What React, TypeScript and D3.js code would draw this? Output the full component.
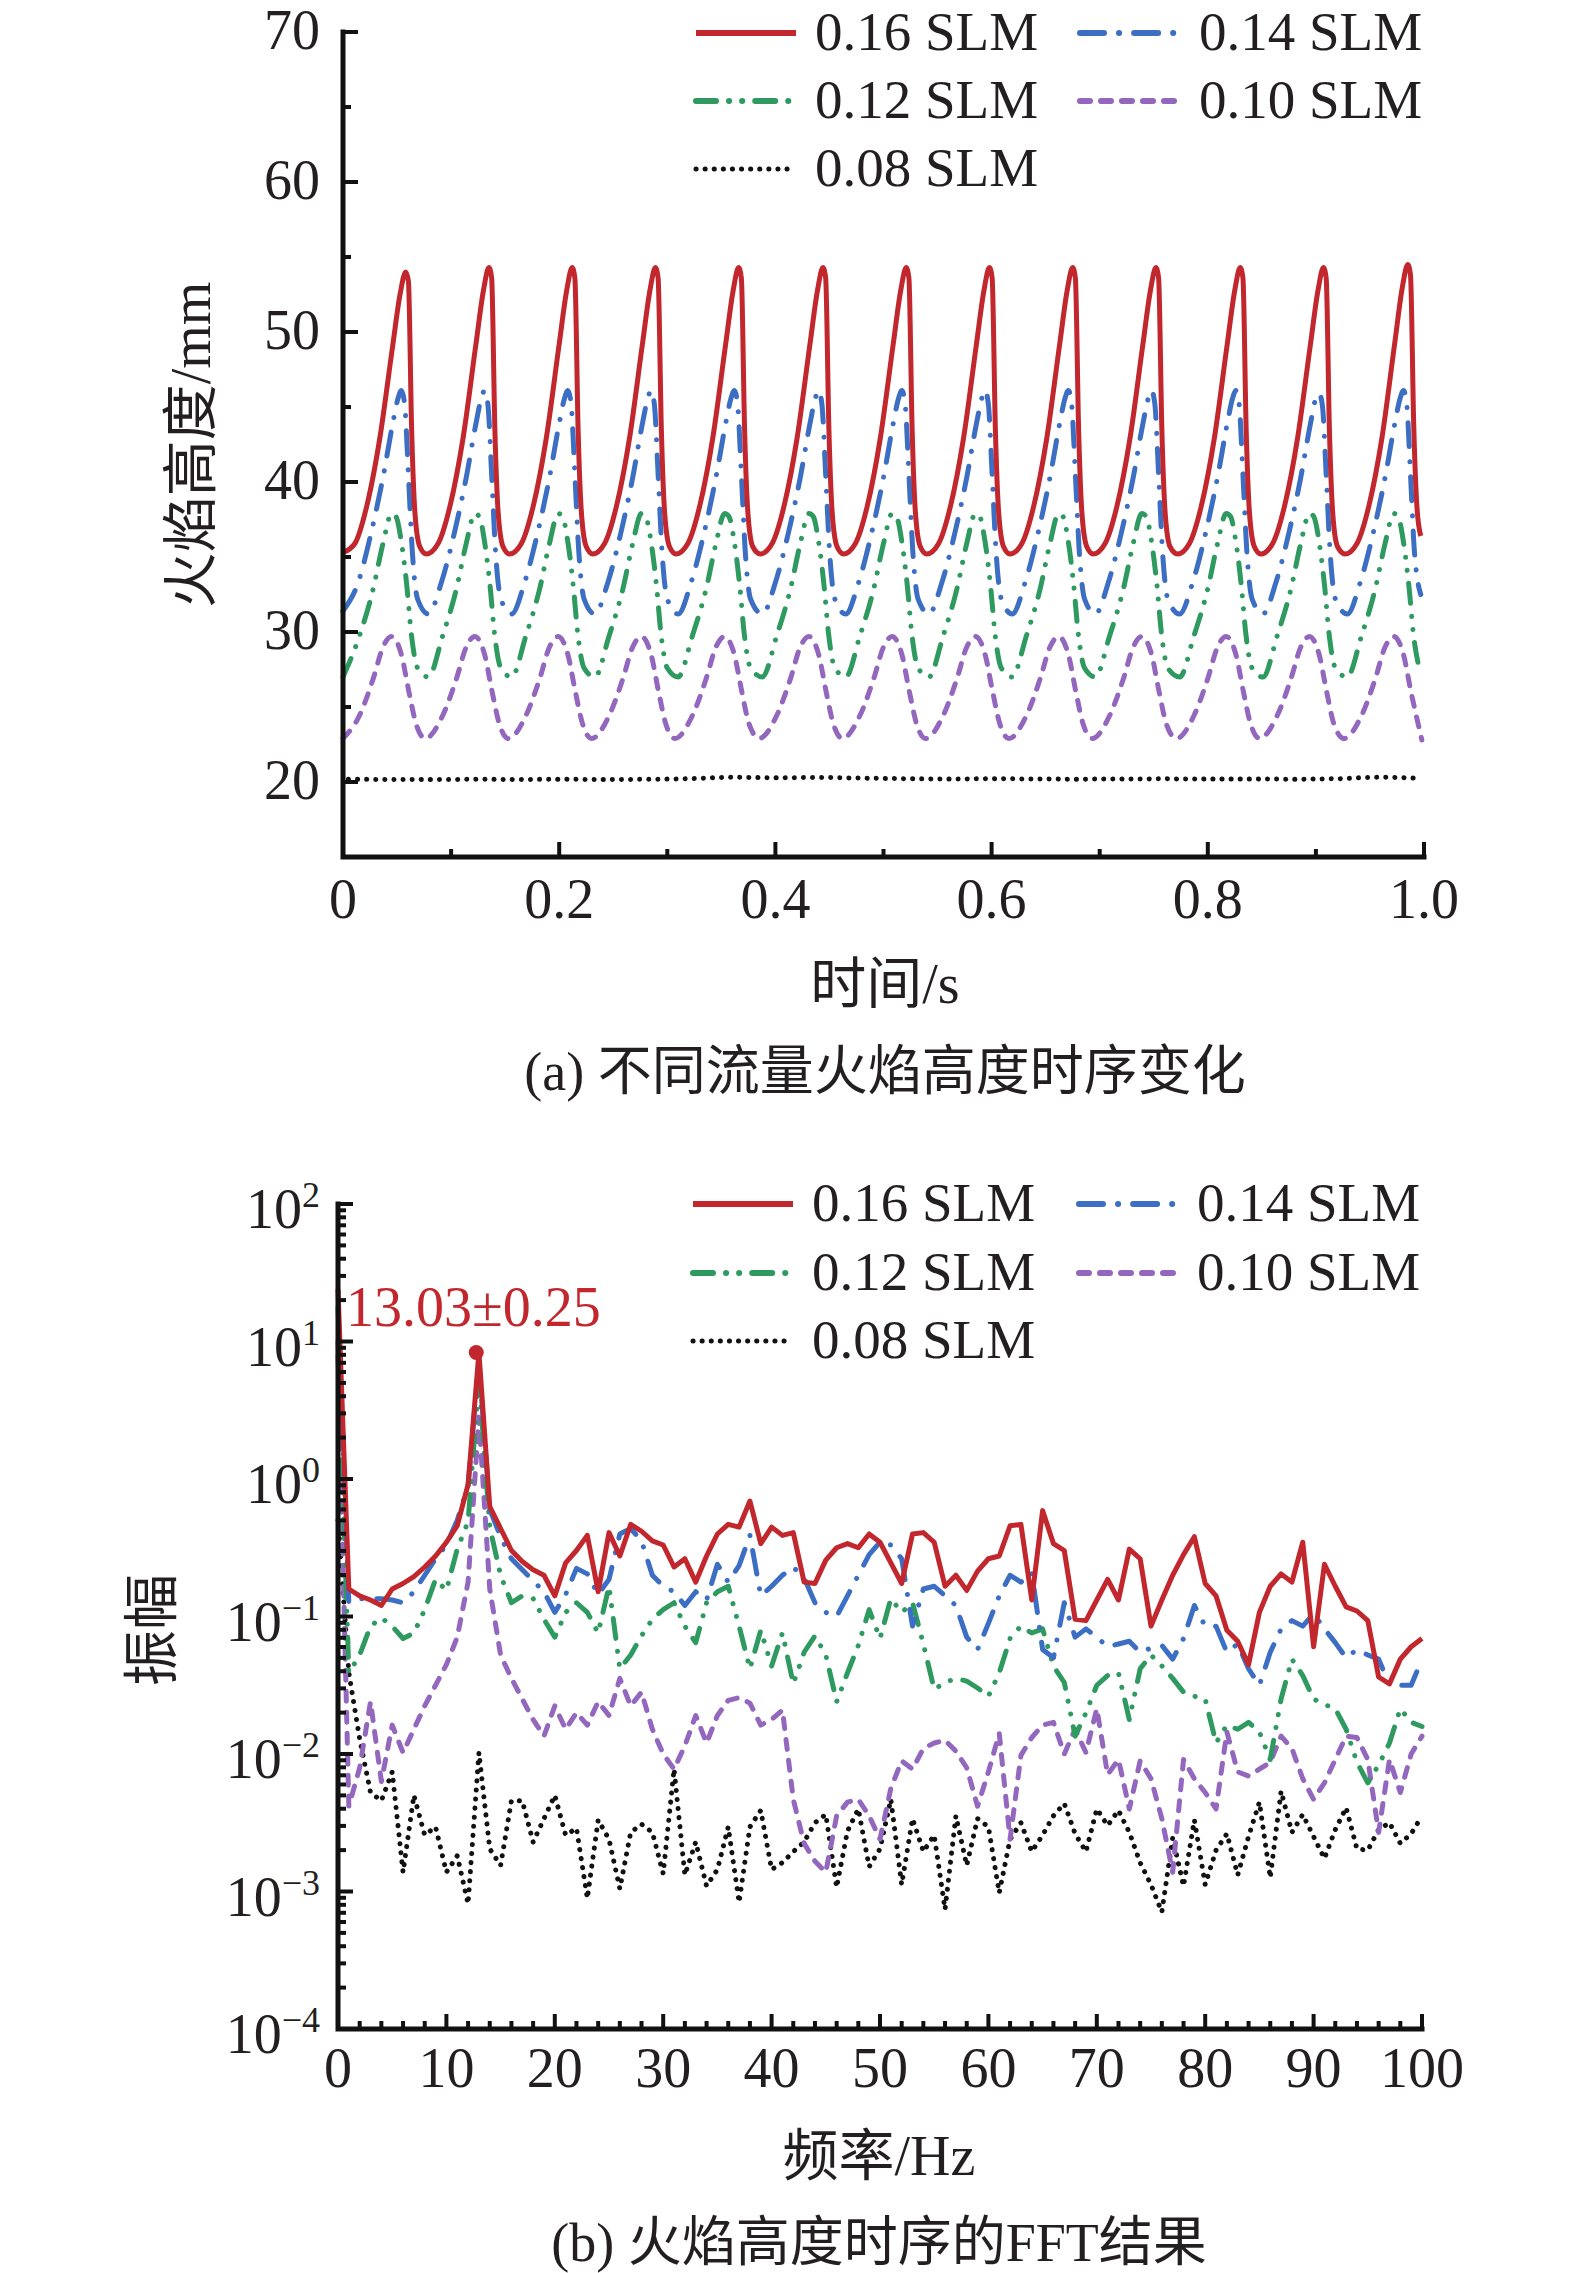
import * as d3 from "d3";

// ── Series names and style (legend order) ─────────────────────
const SERIES = ["0.16 SLM", "0.14 SLM", "0.12 SLM", "0.10 SLM", "0.08 SLM"];
const COLORS = ["#c1272d", "#3c6fc4", "#2f9a60", "#9467bf", "#111111"];
const DASHES = ["none", "24 15 0.1 15", "20 13 0.1 13 0.1 13", "10 11", "0.1 9"];

// ── (a) flame height vs time, [t (s), height (mm)] ────────────
const H_016: [number, number][] = [
  [0.000, 35.3], [0.011, 35.9], [0.022, 38.4], [0.034, 42.9], [0.046, 49.1], [0.053, 52.6], [0.058, 54.0], [0.0605, 53.4], [0.0635, 43.5], [0.0665, 38.0], [0.071, 35.7],
  [0.077, 35.2], [0.088, 35.9], [0.099, 38.4], [0.111, 42.9], [0.123, 49.2], [0.130, 52.8], [0.135, 54.3], [0.1375, 53.6], [0.1405, 43.5], [0.1435, 38.0], [0.148, 35.7],
  [0.154, 35.2], [0.165, 35.9], [0.176, 38.4], [0.188, 42.9], [0.200, 49.2], [0.207, 52.8], [0.212, 54.3], [0.2145, 53.6], [0.2175, 43.5], [0.2205, 38.0], [0.225, 35.7],
  [0.231, 35.2], [0.242, 35.9], [0.253, 38.4], [0.265, 42.9], [0.277, 49.2], [0.284, 52.8], [0.289, 54.3], [0.2915, 53.6], [0.2945, 43.5], [0.2975, 38.0], [0.302, 35.7],
  [0.308, 35.2], [0.319, 35.9], [0.330, 38.4], [0.342, 42.9], [0.354, 49.2], [0.361, 52.8], [0.366, 54.3], [0.3685, 53.6], [0.3715, 43.5], [0.3745, 38.0], [0.379, 35.7],
  [0.386, 35.2], [0.397, 35.9], [0.408, 38.4], [0.420, 42.9], [0.432, 49.2], [0.439, 52.8], [0.444, 54.3], [0.4465, 53.6], [0.4495, 43.5], [0.4525, 38.0], [0.457, 35.7],
  [0.463, 35.2], [0.474, 35.9], [0.485, 38.4], [0.497, 42.9], [0.509, 49.2], [0.516, 52.8], [0.521, 54.3], [0.5235, 53.6], [0.5265, 43.5], [0.5295, 38.0], [0.534, 35.7],
  [0.540, 35.2], [0.551, 35.9], [0.562, 38.4], [0.574, 42.9], [0.586, 49.2], [0.593, 52.8], [0.598, 54.3], [0.6005, 53.6], [0.6035, 43.5], [0.6065, 38.0], [0.611, 35.7],
  [0.617, 35.2], [0.628, 35.9], [0.639, 38.4], [0.651, 42.9], [0.663, 49.2], [0.670, 52.8], [0.675, 54.3], [0.6775, 53.6], [0.6805, 43.5], [0.6835, 38.0], [0.688, 35.7],
  [0.694, 35.2], [0.705, 35.9], [0.716, 38.4], [0.728, 42.9], [0.740, 49.2], [0.747, 52.8], [0.752, 54.3], [0.7545, 53.6], [0.7575, 43.5], [0.7605, 38.0], [0.765, 35.7],
  [0.772, 35.2], [0.783, 35.9], [0.794, 38.4], [0.806, 42.9], [0.818, 49.2], [0.825, 52.8], [0.830, 54.3], [0.8325, 53.6], [0.8355, 43.5], [0.8385, 38.0], [0.843, 35.7],
  [0.849, 35.2], [0.860, 35.9], [0.871, 38.4], [0.883, 42.9], [0.895, 49.2], [0.902, 52.8], [0.907, 54.3], [0.9095, 53.6], [0.9125, 43.5], [0.9155, 38.0], [0.920, 35.7],
  [0.927, 35.2], [0.938, 35.9], [0.949, 38.4], [0.961, 42.9], [0.973, 49.3], [0.980, 53.0], [0.985, 54.5], [0.9875, 53.8], [0.9905, 43.8], [0.9935, 38.3], [0.997, 36.4],
];

const H_014: [number, number][] = [
  [0.000, 31.4], [0.014, 33.3], [0.026, 36.6], [0.037, 40.3], [0.046, 43.9], [0.051, 45.6], [0.054, 46.1], [0.057, 45.2], [0.0605, 40.5], [0.064, 35.5], [0.069, 32.2],
  [0.079, 31.2], [0.091, 33.3], [0.103, 36.6], [0.114, 40.3], [0.123, 43.9], [0.128, 45.6], [0.131, 46.1], [0.134, 45.2], [0.1375, 40.5], [0.141, 35.5], [0.146, 32.2],
  [0.156, 31.2], [0.168, 33.3], [0.180, 36.6], [0.191, 40.3], [0.200, 43.9], [0.205, 45.6], [0.208, 46.1], [0.211, 45.2], [0.2145, 40.5], [0.218, 35.5], [0.223, 32.2],
  [0.233, 31.2], [0.245, 33.3], [0.257, 36.6], [0.268, 40.3], [0.277, 43.9], [0.282, 45.6], [0.285, 46.1], [0.288, 45.2], [0.2915, 40.5], [0.295, 35.5], [0.300, 32.2],
  [0.310, 31.2], [0.322, 33.3], [0.334, 36.6], [0.345, 40.3], [0.354, 43.9], [0.359, 45.6], [0.362, 46.1], [0.365, 45.2], [0.3685, 40.5], [0.372, 35.5], [0.377, 32.2],
  [0.388, 31.2], [0.400, 33.3], [0.412, 36.6], [0.423, 40.3], [0.432, 43.9], [0.437, 45.6], [0.440, 46.1], [0.443, 45.2], [0.4465, 40.5], [0.450, 35.5], [0.455, 32.2],
  [0.465, 31.2], [0.477, 33.3], [0.489, 36.6], [0.500, 40.3], [0.509, 43.9], [0.514, 45.6], [0.517, 46.1], [0.520, 45.2], [0.5235, 40.5], [0.527, 35.5], [0.532, 32.2],
  [0.542, 31.2], [0.554, 33.3], [0.566, 36.6], [0.577, 40.3], [0.586, 43.9], [0.591, 45.6], [0.594, 46.1], [0.597, 45.2], [0.6005, 40.5], [0.604, 35.5], [0.609, 32.2],
  [0.619, 31.2], [0.631, 33.3], [0.643, 36.6], [0.654, 40.3], [0.663, 43.9], [0.668, 45.6], [0.671, 46.1], [0.674, 45.2], [0.6775, 40.5], [0.681, 35.5], [0.686, 32.2],
  [0.696, 31.2], [0.708, 33.3], [0.720, 36.6], [0.731, 40.3], [0.740, 43.9], [0.745, 45.6], [0.748, 46.1], [0.751, 45.2], [0.7545, 40.5], [0.758, 35.5], [0.763, 32.2],
  [0.774, 31.2], [0.786, 33.3], [0.798, 36.6], [0.809, 40.3], [0.818, 43.9], [0.823, 45.6], [0.826, 46.1], [0.829, 45.2], [0.8325, 40.5], [0.836, 35.5], [0.841, 32.2],
  [0.851, 31.2], [0.863, 33.3], [0.875, 36.6], [0.886, 40.3], [0.895, 43.9], [0.900, 45.6], [0.903, 45.9], [0.906, 45.1], [0.9095, 40.5], [0.913, 35.5], [0.918, 32.2],
  [0.929, 31.2], [0.941, 33.3], [0.953, 36.6], [0.964, 40.3], [0.973, 43.9], [0.978, 45.6], [0.981, 46.1], [0.984, 45.2], [0.9875, 40.5], [0.991, 35.5], [0.997, 32.5],
];

const H_012: [number, number][] = [
  [0.000, 27.0], [0.015, 29.7], [0.028, 32.9], [0.037, 35.9], [0.045, 37.9], [0.049, 37.7], [0.054, 36.0], [0.059, 33.1], [0.063, 30.0], [0.069, 27.6],
  [0.079, 27.0], [0.092, 29.7], [0.105, 32.9], [0.114, 35.9], [0.122, 37.9], [0.126, 37.7], [0.131, 36.0], [0.136, 33.1], [0.140, 30.0], [0.146, 27.6],
  [0.156, 27.0], [0.169, 29.7], [0.182, 32.9], [0.191, 35.9], [0.199, 37.9], [0.203, 37.7], [0.208, 36.0], [0.213, 33.1], [0.217, 30.0], [0.223, 27.6],
  [0.233, 27.0], [0.246, 29.7], [0.259, 32.9], [0.268, 35.9], [0.276, 37.9], [0.280, 37.7], [0.285, 36.0], [0.290, 33.1], [0.294, 30.0], [0.300, 27.6],
  [0.310, 27.0], [0.323, 29.7], [0.336, 32.9], [0.345, 35.9], [0.353, 37.9], [0.357, 37.7], [0.362, 36.0], [0.367, 33.1], [0.371, 30.0], [0.377, 27.6],
  [0.388, 27.0], [0.401, 29.7], [0.414, 32.9], [0.423, 35.9], [0.431, 37.9], [0.435, 37.7], [0.440, 36.0], [0.445, 33.1], [0.449, 30.0], [0.455, 27.6],
  [0.465, 27.0], [0.478, 29.7], [0.491, 32.9], [0.500, 35.9], [0.508, 37.9], [0.512, 37.7], [0.517, 36.0], [0.522, 33.1], [0.526, 30.0], [0.532, 27.6],
  [0.542, 27.0], [0.555, 29.7], [0.568, 32.9], [0.577, 35.9], [0.585, 37.9], [0.589, 37.7], [0.594, 36.0], [0.599, 33.1], [0.603, 30.0], [0.609, 27.6],
  [0.619, 27.0], [0.632, 29.7], [0.645, 32.9], [0.654, 35.9], [0.662, 37.9], [0.666, 37.7], [0.671, 36.0], [0.676, 33.1], [0.680, 30.0], [0.686, 27.6],
  [0.696, 27.0], [0.709, 29.7], [0.722, 32.9], [0.731, 35.9], [0.739, 37.9], [0.743, 37.7], [0.748, 36.0], [0.753, 33.1], [0.757, 30.0], [0.763, 27.6],
  [0.774, 27.0], [0.787, 29.7], [0.800, 32.9], [0.809, 35.9], [0.817, 37.9], [0.821, 37.7], [0.826, 36.0], [0.831, 33.1], [0.835, 30.0], [0.841, 27.6],
  [0.851, 27.0], [0.864, 29.7], [0.877, 32.9], [0.886, 35.9], [0.894, 37.9], [0.898, 37.7], [0.903, 36.0], [0.908, 33.1], [0.912, 30.0], [0.918, 27.6],
  [0.929, 27.0], [0.942, 29.7], [0.955, 32.9], [0.964, 35.9], [0.972, 37.9], [0.976, 37.7], [0.981, 36.0], [0.986, 33.1], [0.990, 30.0], [0.997, 27.2],
];

const H_010: [number, number][] = [
  [0.000, 22.9], [0.015, 24.4], [0.028, 26.9], [0.037, 29.0], [0.045, 29.7], [0.054, 28.5], [0.061, 26.0], [0.0675, 23.9],
  [0.076, 22.9], [0.092, 24.4], [0.105, 26.9], [0.114, 29.0], [0.122, 29.7], [0.131, 28.5], [0.138, 26.0], [0.1445, 23.9],
  [0.153, 22.9], [0.169, 24.4], [0.182, 26.9], [0.191, 29.0], [0.199, 29.7], [0.208, 28.5], [0.215, 26.0], [0.2215, 23.9],
  [0.230, 22.9], [0.246, 24.4], [0.259, 26.9], [0.268, 29.0], [0.276, 29.7], [0.285, 28.5], [0.292, 26.0], [0.2985, 23.9],
  [0.307, 22.9], [0.323, 24.4], [0.336, 26.9], [0.345, 29.0], [0.353, 29.7], [0.362, 28.5], [0.369, 26.0], [0.3755, 23.9],
  [0.385, 22.9], [0.401, 24.4], [0.414, 26.9], [0.423, 29.0], [0.431, 29.7], [0.440, 28.5], [0.447, 26.0], [0.4535, 23.9],
  [0.462, 22.9], [0.478, 24.4], [0.491, 26.9], [0.500, 29.0], [0.508, 29.7], [0.517, 28.5], [0.524, 26.0], [0.5305, 23.9],
  [0.539, 22.9], [0.555, 24.4], [0.568, 26.9], [0.577, 29.0], [0.585, 29.7], [0.594, 28.5], [0.601, 26.0], [0.6075, 23.9],
  [0.616, 22.9], [0.632, 24.4], [0.645, 26.9], [0.654, 29.0], [0.662, 29.7], [0.671, 28.5], [0.678, 26.0], [0.6845, 23.9],
  [0.693, 22.9], [0.709, 24.4], [0.722, 26.9], [0.731, 29.0], [0.739, 29.7], [0.748, 28.5], [0.755, 26.0], [0.7615, 23.9],
  [0.771, 22.9], [0.787, 24.4], [0.800, 26.9], [0.809, 29.0], [0.817, 29.7], [0.826, 28.5], [0.833, 26.0], [0.8395, 23.9],
  [0.848, 22.9], [0.864, 24.4], [0.877, 26.9], [0.886, 29.0], [0.894, 29.7], [0.903, 28.5], [0.910, 26.0], [0.9165, 23.9],
  [0.926, 22.9], [0.942, 24.4], [0.955, 26.9], [0.964, 29.0], [0.972, 29.7], [0.981, 28.5], [0.988, 26.0], [0.9945, 23.9], [0.998, 22.8],
];

const H_008: [number, number][] = [
  [0.005, 20.18], [0.04, 20.17], [0.08, 20.16], [0.12, 20.18], [0.16, 20.17], [0.20, 20.18], [0.24, 20.17],
  [0.28, 20.18], [0.32, 20.22], [0.36, 20.32], [0.40, 20.28], [0.44, 20.30], [0.48, 20.26], [0.52, 20.22],
  [0.56, 20.20], [0.60, 20.22], [0.64, 20.20], [0.68, 20.19], [0.72, 20.20], [0.76, 20.21], [0.80, 20.20],
  [0.84, 20.20], [0.88, 20.19], [0.92, 20.22], [0.96, 20.32], [0.997, 20.24],
];

// ── (b) FFT amplitude, log10 value at 0,1,…,100 Hz ────────────
const FFT_016 = [
  1.38, -0.80, -0.85, -0.88, -0.92, -0.80, -0.76, -0.71, -0.64, -0.56,
  -0.46, -0.34, -0.04, 0.92, -0.20, -0.36, -0.52, -0.60, -0.66, -0.70,
  -0.85, -0.61, -0.52, -0.41, -0.82, -0.39, -0.56, -0.33, -0.38, -0.45,
  -0.48, -0.64, -0.58, -0.75, -0.56, -0.40, -0.33, -0.35, -0.16, -0.47,
  -0.35, -0.41, -0.39, -0.75, -0.76, -0.59, -0.50, -0.47, -0.50, -0.40,
  -0.46, -0.61, -0.76, -0.40, -0.39, -0.46, -0.78, -0.70, -0.81, -0.67,
  -0.58, -0.56, -0.34, -0.33, -0.88, -0.23, -0.47, -0.52, -1.02, -1.03,
  -0.88, -0.73, -0.88, -0.51, -0.58, -1.07, -0.88, -0.70, -0.55, -0.42,
  -0.76, -0.85, -1.10, -1.18, -1.35, -0.97, -0.78, -0.69, -0.75, -0.46,
  -1.22, -0.62, -0.78, -0.93, -0.96, -1.03, -1.44, -1.49, -1.31, -1.22,
  -1.16,
];
const FFT_014 = [
  1.25, -0.90, -0.87, -0.87, -0.87, -0.88, -0.90, -0.82, -0.70, -0.58,
  -0.48, -0.30, -0.05, 0.85, -0.22, -0.42, -0.58, -0.66, -0.74, -0.82,
  -0.97, -0.84, -0.65, -0.69, -0.84, -0.73, -0.40, -0.36, -0.45, -0.70,
  -0.78, -0.82, -0.92, -0.82, -0.88, -0.62, -0.75, -0.63, -0.41, -0.85,
  -0.78, -0.70, -0.64, -0.72, -0.90, -0.97, -1.00, -0.85, -0.70, -0.55,
  -0.46, -0.48, -0.58, -1.07, -0.80, -0.78, -0.85, -0.92, -1.15, -1.24,
  -1.05, -0.85, -0.70, -0.75, -0.68, -1.24, -1.30, -0.90, -1.15, -1.09,
  -1.15, -1.22, -1.20, -1.18, -1.26, -1.23, -1.21, -1.31, -1.16, -0.92,
  -1.07, -1.07, -1.26, -1.20, -1.38, -1.50, -1.26, -1.09, -1.03, -1.07,
  -0.98, -1.09, -1.19, -1.30, -1.24, -1.28, -1.31, -1.50, -1.50, -1.50,
  -1.31,
];
const FFT_012 = [
  1.00, -1.41, -1.28, -1.07, -1.01, -1.07, -1.16, -1.12, -0.95, -0.73,
  -0.81, -0.51, -0.31, 0.73, -0.35, -0.70, -0.90, -0.85, -0.87, -1.02,
  -1.15, -0.97, -0.90, -0.97, -1.12, -0.78, -1.38, -1.28, -1.14, -1.02,
  -0.95, -0.90, -1.07, -1.19, -0.90, -0.82, -0.78, -1.07, -1.38, -1.10,
  -1.36, -1.12, -1.49, -1.26, -1.14, -1.28, -1.62, -1.41, -1.21, -0.95,
  -1.16, -0.87, -0.97, -0.90, -1.20, -1.53, -1.48, -1.45, -1.47, -1.52,
  -1.58, -1.41, -1.16, -1.07, -1.12, -1.09, -1.36, -1.48, -1.87, -1.70,
  -1.50, -1.43, -1.41, -1.75, -1.38, -1.28, -1.36, -1.45, -1.55, -1.58,
  -1.60, -1.92, -1.79, -1.82, -1.77, -1.84, -2.04, -1.60, -1.31, -1.43,
  -1.60, -1.64, -1.67, -1.82, -2.06, -2.21, -2.08, -1.92, -1.67, -1.77,
  -1.80,
];
const FFT_010 = [
  0.90, -2.38, -2.10, -1.62, -2.20, -1.79, -1.99, -1.82, -1.65, -1.50,
  -1.35, -1.15, -0.75, 0.45, -0.80, -1.28, -1.45, -1.60, -1.75, -1.87,
  -1.65, -1.82, -1.70, -1.79, -1.62, -1.72, -1.45, -1.65, -1.55, -1.82,
  -2.00, -2.11, -1.94, -1.72, -1.92, -1.72, -1.61, -1.59, -1.63, -1.79,
  -1.75, -1.68, -2.33, -2.65, -2.78, -2.86, -2.45, -2.35, -2.33, -2.45,
  -2.62, -2.25, -2.05, -2.11, -1.96, -1.92, -1.90, -1.98, -2.10, -2.38,
  -2.13, -1.85, -2.62, -2.01, -1.88, -1.79, -1.77, -2.00, -1.82, -1.99,
  -1.67, -2.15, -2.04, -2.40, -2.05, -2.18, -2.47, -2.86, -2.04, -2.18,
  -2.28, -2.40, -1.84, -2.13, -2.16, -2.11, -2.06, -1.87, -1.96, -2.18,
  -2.33, -2.21, -2.04, -1.87, -1.88, -2.04, -2.57, -2.04, -2.28, -2.00,
  -1.87,
];
const FFT_008 = [
  -0.30, -1.41, -1.89, -2.28, -2.34, -2.13, -2.86, -2.30, -2.59, -2.53,
  -2.86, -2.74, -3.09, -1.99, -2.69, -2.81, -2.34, -2.34, -2.64, -2.47,
  -2.30, -2.59, -2.54, -3.05, -2.48, -2.62, -2.98, -2.57, -2.51, -2.57,
  -2.87, -2.11, -2.88, -2.64, -2.96, -2.84, -2.53, -3.08, -2.53, -2.41,
  -2.84, -2.79, -2.71, -2.64, -2.50, -2.44, -2.97, -2.56, -2.40, -2.82,
  -2.69, -2.33, -2.95, -2.47, -2.71, -2.59, -3.13, -2.45, -2.81, -2.47,
  -2.53, -3.01, -2.62, -2.50, -2.71, -2.59, -2.45, -2.36, -2.58, -2.71,
  -2.40, -2.52, -2.41, -2.57, -2.79, -2.95, -3.15, -2.61, -2.96, -2.48,
  -2.95, -2.70, -2.58, -2.88, -2.60, -2.35, -2.90, -2.27, -2.57, -2.44,
  -2.60, -2.76, -2.55, -2.39, -2.69, -2.70, -2.55, -2.50, -2.65, -2.58,
  -2.45,
];

const PEAK_HZ = 13.03;
const PEAK_LABEL = "13.03±0.25";

// ── Layout ─────────────────────────────────────────────────────
const W = 1575;
const H = 2273;
const SERIF = "'Liberation Serif', 'Times New Roman', serif";
const CJK = "'Liberation Serif', 'Noto Sans CJK SC', sans-serif";
const FS = 56;
const AXIS_W = 5;
const MAJOR = 15;
const MINOR = 8;

const xA = d3.scaleLinear().domain([0, 1]).range([343, 1424]);
const yA = d3.scaleLinear().domain([15, 70]).range([857, 32]);
const xB = d3.scaleLinear().domain([0, 100]).range([338, 1422]);
const yB = d3.scaleLog().domain([1e-4, 1e2]).range([2029, 1204]);

function Legend({ x1, x2, tx, tx2, rows }: { x1: number; x2: number; tx: number; tx2: number; rows: number[] }) {
  // 2 columns: 0.16/0.14, 0.12/0.10, 0.08
  const cols = [x1, x2];
  const texts = [tx, tx2];
  return (
    <g>
      {SERIES.map((name, i) => {
        const col = i % 2;
        const row = Math.floor(i / 2);
        const lx = cols[col];
        const y = rows[row];
        return (
          <g key={name}>
            <line
              x1={lx}
              x2={lx + 100}
              y1={y}
              y2={y}
              stroke={COLORS[i]}
              strokeWidth={i === 4 ? 5 : 6}
              strokeDasharray={DASHES[i]}
              strokeLinecap={i === 0 ? "butt" : "round"}
            />
            <text x={texts[col]} y={y + 17} fontFamily={SERIF} fontSize={55} fill="#231f20">
              {name}
            </text>
          </g>
        );
      })}
    </g>
  );
}

function TimeChart() {
  const line = d3
    .line<[number, number]>()
    .x((d) => xA(d[0]))
    .y((d) => yA(d[1]))
    .curve(d3.curveMonotoneX);
  const data = [H_016, H_014, H_012, H_010, H_008];
  const [x0, x1] = xA.range();
  const [yb, yt] = yA.range();
  const yTicks = yA.ticks(11);
  const xTicks = xA.ticks(10);

  return (
    <g>
      {data
        .map((d, i) => (
          <path
            key={SERIES[i]}
            d={line(d) ?? ""}
            fill="none"
            stroke={COLORS[i]}
            strokeWidth={5}
            strokeDasharray={DASHES[i]}
            strokeLinecap={i === 0 ? "butt" : "round"}
            strokeLinejoin="round"
          />
        ))
        .reverse()}

      {/* axes */}
      <path d={`M${x0},${yt}V${yb}H${x1}`} fill="none" stroke="#111" strokeWidth={AXIS_W} strokeLinecap="square" />
      {yTicks.map((v) => {
        const major = v % 10 === 0;
        return (
          <g key={`y${v}`}>
            <line x1={x0} x2={x0 + (major ? MAJOR : MINOR)} y1={yA(v)} y2={yA(v)} stroke="#111" strokeWidth={4} />
            {major && (
              <text x={320} y={yA(v) + 17} textAnchor="end" fontFamily={SERIF} fontSize={FS} fill="#231f20">
                {v}
              </text>
            )}
          </g>
        );
      })}
      {xTicks.map((v, i) => {
        const major = i % 2 === 0;
        return (
          <g key={`x${i}`}>
            <line x1={xA(v)} x2={xA(v)} y1={yb} y2={yb - (major ? MAJOR : MINOR)} stroke="#111" strokeWidth={4} />
            {major && (
              <text x={xA(v)} y={918} textAnchor="middle" fontFamily={SERIF} fontSize={FS} fill="#231f20">
                {v === 0 ? "0" : v.toFixed(1)}
              </text>
            )}
          </g>
        );
      })}

      <text
        transform="translate(210,445) rotate(-90)"
        textAnchor="middle"
        fontFamily={CJK}
        fontSize={FS}
        fill="#231f20"
      >
        火焰高度/mm
      </text>
      <text x={885} y={1003} textAnchor="middle" fontFamily={CJK} fontSize={FS} fill="#231f20">
        时间/s
      </text>
      <text x={885} y={1090} textAnchor="middle" fontFamily={CJK} fontSize={54} fill="#231f20">
        (a) 不同流量火焰高度时序变化
      </text>

      <Legend x1={696} x2={1080} tx={815} tx2={1199} rows={[33, 101, 169]} />
    </g>
  );
}

function FftChart() {
  const line = d3
    .line<number>()
    .x((_d, i) => xB(i))
    .y((d) => yB(Math.pow(10, d)))
    .curve(d3.curveLinear);
  const data = [FFT_016, FFT_014, FFT_012, FFT_010, FFT_008];
  const [x0, x1] = xB.range();
  const [yb, yt] = yB.range();
  const xTicks = xB.ticks(50);
  const decades = d3.range(-4, 3);
  const minors: number[] = [];
  decades.slice(0, -1).forEach((k) => {
    for (let m = 2; m <= 9; m++) minors.push(m * Math.pow(10, k));
  });
  const peakY = yB(Math.pow(10, FFT_016[13]));

  return (
    <g>
      {data
        .map((d, i) => (
          <path
            key={SERIES[i]}
            d={line(d) ?? ""}
            fill="none"
            stroke={COLORS[i]}
            strokeWidth={5}
            strokeDasharray={DASHES[i]}
            strokeLinecap={i === 0 ? "butt" : "round"}
            strokeLinejoin="round"
          />
        ))
        .reverse()}

      <circle cx={xB(PEAK_HZ) - 3} cy={peakY} r={7.5} fill={COLORS[0]} />
      <text x={346} y={1326} fontFamily={SERIF} fontSize={FS} fill={COLORS[0]}>
        {PEAK_LABEL}
      </text>

      {/* axes */}
      <path d={`M${x0},${yt}V${yb}H${x1}`} fill="none" stroke="#111" strokeWidth={AXIS_W} strokeLinecap="square" />
      {minors.map((v) => (
        <line key={`m${v}`} x1={x0} x2={x0 + MINOR} y1={yB(v)} y2={yB(v)} stroke="#111" strokeWidth={4} />
      ))}
      {decades.map((k) => (
        <g key={`d${k}`}>
          <line x1={x0} x2={x0 + MAJOR} y1={yB(Math.pow(10, k))} y2={yB(Math.pow(10, k))} stroke="#111" strokeWidth={4} />
          <text x={320} y={yB(Math.pow(10, k)) + 24} textAnchor="end" fontFamily={SERIF} fontSize={FS} fill="#231f20">
            10
            <tspan fontSize={36} dy={-21}>
              {k < 0 ? `\u2212${-k}` : `${k}`}
            </tspan>
          </text>
        </g>
      ))}
      {xTicks.map((v) => {
        const major = v % 10 === 0;
        return (
          <g key={`x${v}`}>
            <line x1={xB(v)} x2={xB(v)} y1={yb} y2={yb - (major ? MAJOR : MINOR)} stroke="#111" strokeWidth={4} />
            {major && (
              <text x={xB(v)} y={2087} textAnchor="middle" fontFamily={SERIF} fontSize={FS} fill="#231f20">
                {v}
              </text>
            )}
          </g>
        );
      })}

      <text
        transform="translate(171,1630) rotate(-90)"
        textAnchor="middle"
        fontFamily={CJK}
        fontSize={FS}
        fill="#231f20"
      >
        振幅
      </text>
      <text x={879} y={2175} textAnchor="middle" fontFamily={CJK} fontSize={FS} fill="#231f20">
        频率/Hz
      </text>
      <text x={879} y={2261} textAnchor="middle" fontFamily={CJK} fontSize={54} fill="#231f20">
        (b) 火焰高度时序的FFT结果
      </text>

      <Legend x1={693} x2={1079} tx={812} tx2={1197} rows={[1204, 1273, 1341]} />
    </g>
  );
}

export default function App() {
  return (
    <div style={{ position: "absolute", left: 0, top: 0, background: "#fff" }}>
      <svg width={W} height={H} viewBox={`0 0 ${W} ${H}`} style={{ display: "block", background: "#fff" }}>
        <TimeChart />
        <FftChart />
      </svg>
    </div>
  );
}
